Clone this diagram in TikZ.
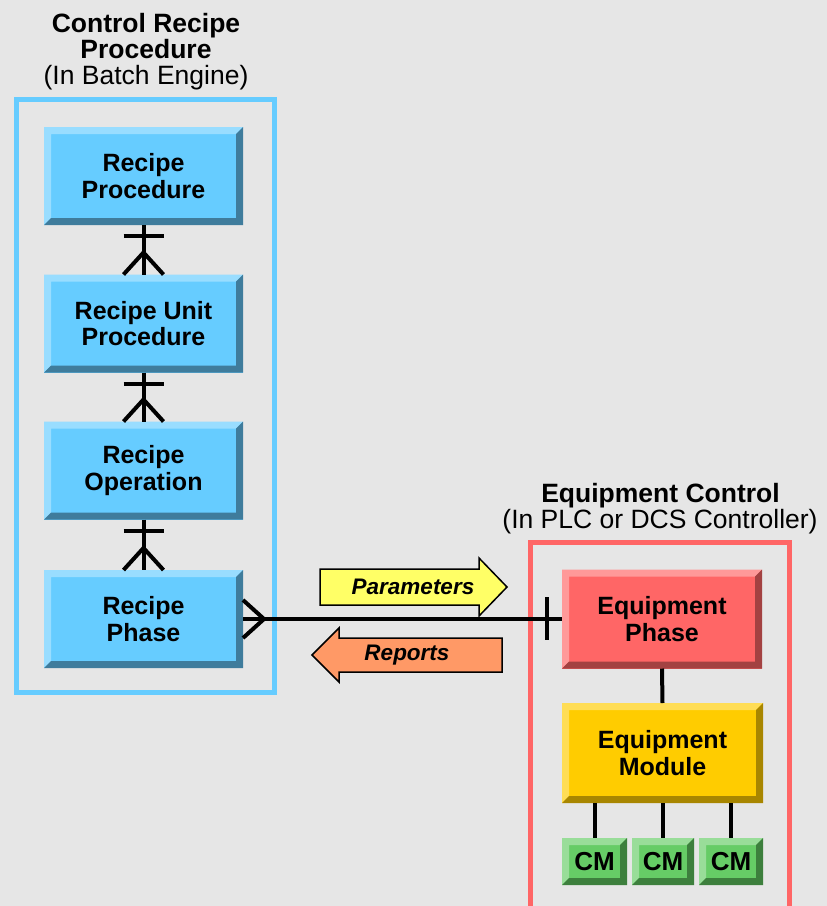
\documentclass[tikz,border=0pt]{standalone}
\usepackage{fontspec}
\setmainfont{Liberation Sans}
\definecolor{bgc}{HTML}{E6E6E6}
\definecolor{blueF}{HTML}{66CCFF}
\definecolor{blueL}{HTML}{99DDFF}
\definecolor{blueD}{HTML}{3F7C9C}
\definecolor{redF}{HTML}{FF6666}
\definecolor{redL}{HTML}{FF9999}
\definecolor{redD}{HTML}{A34242}
\definecolor{yelF}{HTML}{FFCC00}
\definecolor{yelL}{HTML}{FFDD55}
\definecolor{yelD}{HTML}{A88600}
\definecolor{grnF}{HTML}{66CC66}
\definecolor{grnL}{HTML}{99DD99}
\definecolor{grnD}{HTML}{3D7F3D}
\definecolor{paramC}{HTML}{FFFF66}
\definecolor{reportC}{HTML}{FF9966}
\tikzset{
  bevbox/.style n args={3}{fill=#1, inner sep=0pt, outer sep=0pt, align=center,
    font=\fontsize{25}{26.5}\selectfont\bfseries,
    path picture={
      \fill[#2] (path picture bounding box.south west) -- (path picture bounding box.north west)
        -- (path picture bounding box.north east)
        -- ([shift={(-7pt,-7pt)}]path picture bounding box.north east)
        -| ([shift={(7pt,7pt)}]path picture bounding box.south west) -- cycle;
      \fill[#3] (path picture bounding box.south west) -- (path picture bounding box.south east)
        -- (path picture bounding box.north east)
        -- ([shift={(-7pt,-7pt)}]path picture bounding box.north east)
        |- ([shift={(7pt,7pt)}]path picture bounding box.south west) -- cycle;
    }},
  bluebox/.style={bevbox={blueF}{blueL}{blueD}, minimum width=199pt, minimum height=98pt},
  redbox/.style={bevbox={redF}{redL}{redD}, minimum width=200pt, minimum height=99pt},
  yelbox/.style={bevbox={yelF}{yelL}{yelD}, minimum width=201pt, minimum height=100pt},
  cmbox/.style={bevbox={grnF}{grnL}{grnD}, minimum height=47pt, font=\fontsize{26}{27}\selectfont\bfseries},
  conn/.style={line width=4pt, black},
  ttl/.style={anchor=base, inner sep=0pt, font=\fontsize{26.5}{27}\selectfont\bfseries},
  subttl/.style={anchor=base, inner sep=0pt, font=\fontsize{26.5}{27}\selectfont},
  arrlbl/.style={inner sep=0pt, font=\fontsize{22.5}{24}\selectfont\bfseries\itshape},
  arrshape/.style={draw=black, line width=1.5pt, line join=miter}
}
\begin{document}
\begin{tikzpicture}[x=1pt,y=-1pt]
\useasboundingbox (0,0) rectangle (827,906);
\fill[bgc] (0,0) rectangle (827,906);
\clip (0,0) rectangle (827,906);

% containers
\draw[blueF, line width=5pt] (16,99) rectangle (274.5,692.5);
\draw[redF, line width=5pt] (530.5,542.5) rectangle (789.5,960);

% titles
\node[ttl] (t1a) at (146,32) {Control Recipe};
\node[ttl] (t1b) at (146,58.5) {Procedure};
\node[subttl] (t1c) at (146,84.5) {(In Batch Engine)};
\node[ttl] (t2a) at (660.5,502) {Equipment Control};
\node[subttl] (t2b) at (660,528) {(In PLC or DCS Controller)};

% recipe boxes
\node[bluebox] (b1) at (143.5,176) {Recipe\\Procedure};
\node[bluebox] (b2) at (143.5,323.5) {Recipe Unit\\Procedure};
\node[bluebox] (b3) at (143.5,470.5) {Recipe\\Operation};
\node[bluebox] (b4) at (143.5,619) {Recipe\\Phase};

% equipment boxes
\node[redbox] (ep) at (662,619) {Equipment\\Phase};
\node[yelbox] (em) at (662.5,753) {Equipment\\Module};
\node[cmbox, minimum width=65pt] (cm1) at (594.5,861.5) {CM};
\node[cmbox, minimum width=62pt] (cm2) at (663,861.5) {CM};
\node[cmbox, minimum width=64pt] (cm3) at (731,861.5) {CM};

% crow's foot connectors between recipe boxes
\foreach \u/\l in {b1/b2, b2/b3, b3/b4}{
  \draw[conn] (\u.south) -- (\l.north);
  \draw[conn] ([xshift=-20pt,yshift=-11pt]\u.south) -- ([xshift=20pt,yshift=-11pt]\u.south);
  \draw[conn] ([xshift=-20pt]\l.north) -- ([yshift=22pt]\l.north) -- ([xshift=20pt]\l.north);
}

% recipe phase to equipment phase
\draw[conn] (b4.east) -- (ep.west);
\draw[conn] ([yshift=19pt]b4.east) -- ([xshift=21pt]b4.east) -- ([yshift=-19pt]b4.east);
\draw[conn] ([xshift=-15pt,yshift=22pt]ep.west) -- ([xshift=-15pt,yshift=-21pt]ep.west);

% equipment tree
\draw[conn] (ep.south) -- (em.south |- em.north);
\draw[conn] (cm1.north |- em.south) -- (cm1.north);
\draw[conn] (cm2.north |- em.south) -- (cm2.north);
\draw[conn] (cm3.north |- em.south) -- (cm3.north);

% parameter / report arrows
\draw[arrshape, fill=paramC] (320,569) -- (479,569) -- (479,558) -- (507,587)
  -- (479,616) -- (479,605) -- (320,605) -- cycle;
\node[arrlbl] (par) at (413,587) {Parameters};
\draw[arrshape, fill=reportC] (502,638) -- (339,638) -- (339,628) -- (312,655)
  -- (339,682) -- (339,672) -- (502,672) -- cycle;
\node[arrlbl] (rep) at (407,655) {Reports};
\end{tikzpicture}
\end{document}
